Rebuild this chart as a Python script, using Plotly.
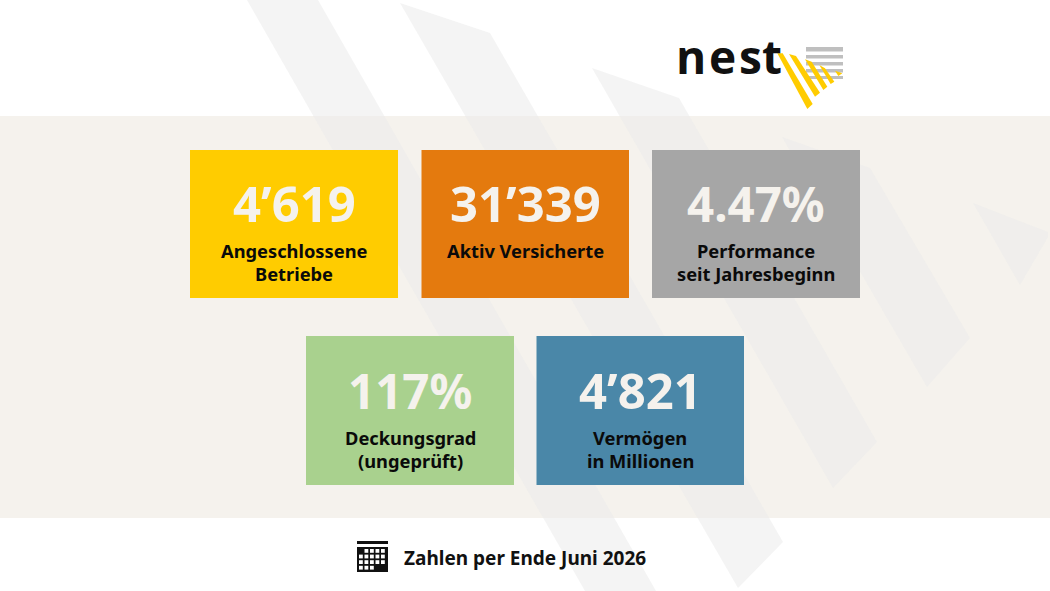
import plotly.graph_objects as go

# ---- content ----
values = ["4’619", "31’339", "4.47%", "117%", "4’821"]
labels = ["Angeschlossene<br>Betriebe", "Aktiv Versicherte", "Performance<br>seit Jahresbeginn",
          "Deckungsgrad<br>(ungeprüft)", "Vermögen<br>in Millionen"]
footer = "Zahlen per Ende Juni 2026"
logo_letters = ["n", "e", "s", "t"]

# ---- layout / style ----
W, H = 1050, 591
FONT = "Noto Sans"
colors = ["#FFCC00", "#E47A0E", "#A6A6A6", "#A9D18E", "#4A87A8"]
boxes = [(190, 150, 398, 298), (421.5, 150, 629, 298), (652, 150, 860, 298),
         (306, 336, 514, 485), (536.5, 336, 744, 485)]
value_y = [203, 203, 203, 390, 390]
value_size = [49, 49, 47.5, 47.5, 49]
label_y = [250.5, 250.5, 250.5, 437.5, 437.5]
LINE = 23
stripes = [
    [(247, 0), (318, 0), (656, 591), (585, 591)],
    [(400, 3), (490, 33), (783, 542), (738, 588)],
    [(592, 68), (679, 98), (877, 442), (833, 488)],
    [(782, 137), (870, 168), (970, 338), (927, 387)],
    [(973, 203), (1048, 232), (1048, 237), (1020, 285)],
]
logo_bars = [(47, 51.5), (55, 58.5), (62, 65.5), (69, 72.5), (76, 79)]
# logo stripes, in 3x crop coordinates of the logo
logo_stripes = [
    [(22, 40), (38, 40), (128, 192), (112, 207)],
    [(57, 42), (78, 48), (150, 158), (135, 170)],
    [(105, 58), (125, 65), (172, 140), (160, 150)],
    [(148, 75), (165, 85), (193, 125), (182, 132)],
    [(195, 92), (217, 100), (205, 108)],
]
letter_x = [690.5, 722, 750, 771.5]
# calendar cells: which columns are white in each row
cal_rows = [[1, 2, 3, 4], [0, 1, 2, 3, 4], [0, 1, 2, 3, 4], [0, 1, 2]]


def path(pts):
    return "M" + " L".join(f"{x},{y}" for x, y in pts) + " Z"


def rect(x0, y0, x1, y1, color, layer="below"):
    return dict(type="rect", xref="x", yref="y", x0=x0, y0=y0, x1=x1, y1=y1,
                fillcolor=color, line_width=0, layer=layer)


shapes = [rect(0, 116, W, 518, "#F5F2ED")]
for s in stripes:
    shapes.append(dict(type="path", xref="x", yref="y", path=path(s),
                       fillcolor="rgba(235,235,235,0.55)", line_width=0, layer="below"))
for b, c in zip(boxes, colors):
    shapes.append(rect(*b, c))
for y0, y1 in logo_bars:
    shapes.append(rect(806, y0, 843, y1, "#BFBFBF"))
for s in logo_stripes:
    pts = [(770 + x / 3, 40 + y / 3) for x, y in s]
    shapes.append(dict(type="path", xref="x", yref="y", path=path(pts),
                       fillcolor="#FFCC00", line_width=0, layer="below"))

# calendar icon
shapes.append(rect(357, 541, 388, 544, "#111111"))
shapes.append(rect(357, 547, 388, 572, "#111111"))
for r, cols in enumerate(cal_rows):
    for c in cols:
        x0 = 359 + c * 5.5
        y0 = 549 + r * 5.6
        shapes.append(rect(x0, y0, x0 + 3.8, y0 + 3.8, "#FFFFFF"))

ann = []
for b, v, l, vy, ly, vs in zip(boxes, values, labels, value_y, label_y, value_size):
    cx = (b[0] + b[2]) / 2
    ann.append(dict(x=cx, y=vy, text=f"<b>{v}</b>", showarrow=False, yanchor="middle",
                    font=dict(family=FONT, size=vs, color="#F5F2ED")))
    for i, line in enumerate(l.split("<br>")):
        ann.append(dict(x=cx, y=ly + i * LINE, text=f"<b>{line}</b>", showarrow=False, yanchor="middle",
                        font=dict(family=FONT, size=18.3, color="#0A0A0A")))
ann.append(dict(x=524.5, y=558, text=f"<b>{footer}</b>", showarrow=False, yanchor="middle",
                font=dict(family=FONT, size=19, color="#111111")))
for ch, x in zip(logo_letters, letter_x):
    ann.append(dict(x=x, y=56, text=f"<b>{ch}</b>", showarrow=False, yanchor="middle",
                    font=dict(family="Open Sans", size=46, color="#111111")))

fig = go.Figure()
fig.update_layout(
    width=W, height=H, margin=dict(l=0, r=0, t=0, b=0),
    paper_bgcolor="#FFFFFF", plot_bgcolor="#FFFFFF", showlegend=False,
    xaxis=dict(range=[0, W], visible=False, fixedrange=True),
    yaxis=dict(range=[H, 0], visible=False, fixedrange=True),
    shapes=shapes, annotations=ann,
)
fig.write_html("out.html", config={"displayModeBar": False},
               post_script="document.body.style.margin='0';document.documentElement.style.overflow='hidden';")
